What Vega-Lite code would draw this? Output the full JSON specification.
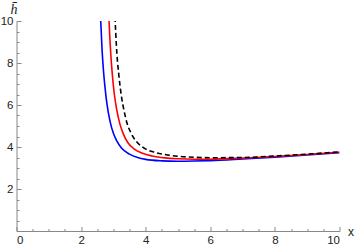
{
  "$schema": "https://vega.github.io/schema/vega-lite/v6.json",
  "autosize": "none",
  "width": 323,
  "height": 210,
  "padding": {"left": 16.5, "top": 21, "right": 21.5, "bottom": 16},
  "config": {
    "view": {"stroke": null},
    "axis": {"labelFont": "Liberation Sans", "labelFontSize": 11.5, "labelColor": "#222", "domainColor": "#888", "tickColor": "#888", "grid": false, "titleFont": "Liberation Serif", "titleFontWeight": "normal", "titleColor": "#222"}
  },
  "data": {"values": [
    {"x": 2.60, "h": 10.2, "s": "b"}, {"x": 2.62, "h": 9.6, "s": "b"}, {"x": 2.65, "h": 8.6, "s": "b"}, {"x": 2.70, "h": 7.5, "s": "b"}, {"x": 2.75, "h": 6.7, "s": "b"}, {"x": 2.80, "h": 6.05, "s": "b"}, {"x": 2.90, "h": 5.2, "s": "b"}, {"x": 3.00, "h": 4.65, "s": "b"}, {"x": 3.10, "h": 4.3, "s": "b"}, {"x": 3.25, "h": 3.95, "s": "b"}, {"x": 3.5, "h": 3.66, "s": "b"}, {"x": 3.75, "h": 3.5, "s": "b"}, {"x": 4.0, "h": 3.41, "s": "b"}, {"x": 4.5, "h": 3.34, "s": "b"}, {"x": 5.0, "h": 3.32, "s": "b"}, {"x": 5.5, "h": 3.33, "s": "b"}, {"x": 6.0, "h": 3.35, "s": "b"}, {"x": 7.0, "h": 3.43, "s": "b"}, {"x": 8.0, "h": 3.52, "s": "b"}, {"x": 9.0, "h": 3.62, "s": "b"}, {"x": 10.0, "h": 3.73, "s": "b"},
    {"x": 2.86, "h": 10.2, "s": "r"}, {"x": 2.88, "h": 9.5, "s": "r"}, {"x": 2.92, "h": 8.4, "s": "r"}, {"x": 2.97, "h": 7.4, "s": "r"}, {"x": 3.03, "h": 6.5, "s": "r"}, {"x": 3.1, "h": 5.8, "s": "r"}, {"x": 3.2, "h": 5.1, "s": "r"}, {"x": 3.3, "h": 4.65, "s": "r"}, {"x": 3.45, "h": 4.2, "s": "r"}, {"x": 3.65, "h": 3.9, "s": "r"}, {"x": 3.9, "h": 3.7, "s": "r"}, {"x": 4.2, "h": 3.57, "s": "r"}, {"x": 4.6, "h": 3.48, "s": "r"}, {"x": 5.0, "h": 3.44, "s": "r"}, {"x": 5.5, "h": 3.42, "s": "r"}, {"x": 6.0, "h": 3.42, "s": "r"}, {"x": 7.0, "h": 3.47, "s": "r"}, {"x": 8.0, "h": 3.55, "s": "r"}, {"x": 9.0, "h": 3.64, "s": "r"}, {"x": 10.0, "h": 3.75, "s": "r"},
    {"x": 3.05, "h": 10.2, "s": "k"}, {"x": 3.07, "h": 9.5, "s": "k"}, {"x": 3.11, "h": 8.4, "s": "k"}, {"x": 3.17, "h": 7.4, "s": "k"}, {"x": 3.24, "h": 6.5, "s": "k"}, {"x": 3.32, "h": 5.8, "s": "k"}, {"x": 3.43, "h": 5.1, "s": "k"}, {"x": 3.55, "h": 4.65, "s": "k"}, {"x": 3.72, "h": 4.25, "s": "k"}, {"x": 3.95, "h": 3.95, "s": "k"}, {"x": 4.2, "h": 3.78, "s": "k"}, {"x": 4.6, "h": 3.64, "s": "k"}, {"x": 5.0, "h": 3.56, "s": "k"}, {"x": 5.5, "h": 3.51, "s": "k"}, {"x": 6.0, "h": 3.49, "s": "k"}, {"x": 7.0, "h": 3.50, "s": "k"}, {"x": 8.0, "h": 3.57, "s": "k"}, {"x": 9.0, "h": 3.66, "s": "k"}, {"x": 10.0, "h": 3.77, "s": "k"}
  ]},
  "layer": [
    {
      "transform": [{"filter": "datum.s === 'b'"}],
      "mark": {"type": "line", "color": "#0000ff", "strokeWidth": 1.6, "clip": true, "interpolate": "monotone"},
      "encoding": {
        "x": {"field": "x", "type": "quantitative", "scale": {"domain": [0, 10], "nice": false, "zero": false},
          "axis": {"orient": "bottom", "values": [0.5,1,1.5,2.5,3,3.5,4.5,5,5.5,6.5,7,7.5,8.5,9,9.5], "labels": false, "domain": false, "tickSize": -2.5, "title": null}},
        "y": {"field": "h", "type": "quantitative", "scale": {"domain": [0, 10], "nice": false, "zero": false},
          "axis": {"orient": "left", "values": [0.5,1,1.5,2.5,3,3.5,4.5,5,5.5,6.5,7,7.5,8.5,9,9.5], "labels": false, "domain": false, "tickSize": -2.5, "title": null}}
      }
    },
    {
      "transform": [{"filter": "datum.s === 'r'"}],
      "mark": {"type": "line", "color": "#ff0000", "strokeWidth": 1.6, "clip": true, "interpolate": "monotone"},
      "encoding": {
        "x": {"field": "x", "type": "quantitative", "scale": {"domain": [0, 10], "nice": false, "zero": false},
          "axis": {"orient": "bottom", "values": [0,2,4,6,8,10], "tickSize": -4.5, "labelPadding": 8, "title": "x", "titleFont": "Liberation Sans", "titleFontSize": 12, "titleAlign": "left", "titleBaseline": "middle", "titleX": 331, "titleY": 0, "titleAngle": 0}},
        "y": {"field": "h", "type": "quantitative", "scale": {"domain": [0, 10], "nice": false, "zero": false},
          "axis": {"orient": "left", "values": [2,4,6,8,10], "tickSize": -4.5, "labelPadding": 8, "title": "h̄", "titleFontSize": 14, "titleFontStyle": "italic", "titleAngle": 0, "titleAlign": "center", "titleBaseline": "alphabetic", "titleX": -3, "titleY": -8}}
      }
    },
    {
      "transform": [{"filter": "datum.s === 'k'"}],
      "mark": {"type": "line", "color": "#000000", "strokeWidth": 1.6, "strokeDash": [5, 3], "clip": true, "interpolate": "monotone"},
      "encoding": {
        "x": {"field": "x", "type": "quantitative", "scale": {"domain": [0, 10], "nice": false, "zero": false}, "axis": null},
        "y": {"field": "h", "type": "quantitative", "scale": {"domain": [0, 10], "nice": false, "zero": false}, "axis": null}
      }
    }
  ],
  "resolve": {"axis": {"x": "independent", "y": "independent"}}
}
